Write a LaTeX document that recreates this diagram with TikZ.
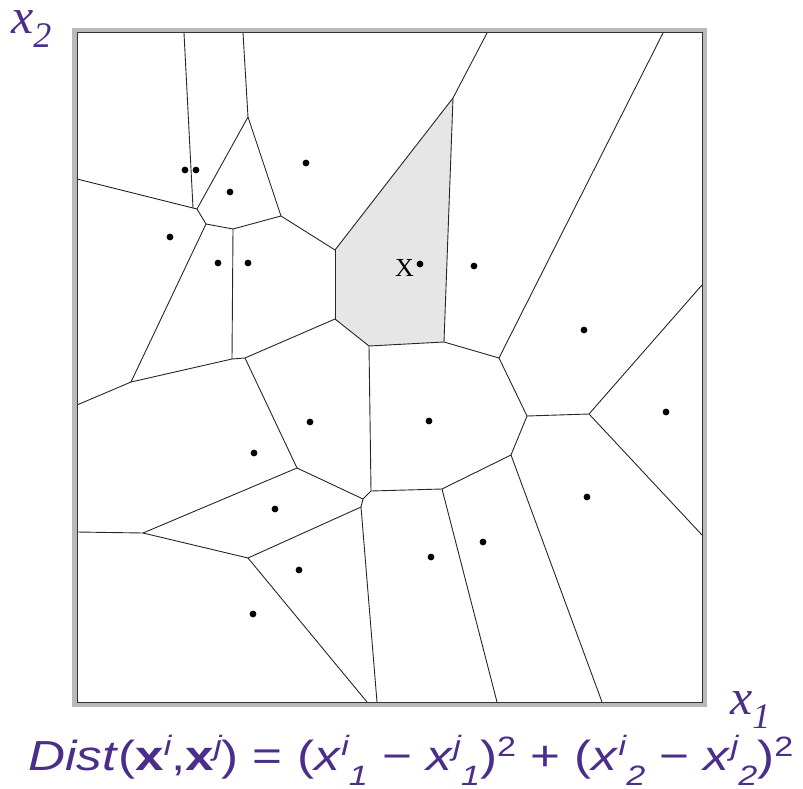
\documentclass[tikz,border=0pt]{standalone}
\usepackage{fontspec}
\newfontfamily\sansf{Liberation Sans}
\newfontfamily\seriff{Liberation Serif}
\usepackage{tikz}
\usetikzlibrary{calc}
\definecolor{labelpurple}{RGB}{75,46,139}
\definecolor{cellgray}{RGB}{230,230,230}

\newcommand{\dsub}[1]{\raisebox{-0.36em}{\fontsize{28}{28}\selectfont\itshape #1}}
\newcommand{\dsup}[1]{\raisebox{0.34em}{\fontsize{28}{28}\selectfont\itshape #1}}
\newcommand{\dpow}[1]{\raisebox{0.32em}{\fontsize{28}{28}\selectfont #1}}

\begin{document}
\begin{tikzpicture}[x=1pt,y=-1pt,
  edge/.style={black!85, line width=0.9pt},
  site/.style={fill=black}]
\useasboundingbox (0,0) rectangle (803,789);

% border and vertices of the cells
\foreach \n/\px/\py in {t1/184/33, t2/243/33, t3/487/33, t4/663/33,
  l1/77/179, l2/77/405, l3/77/532, r1/702/285, r2/702/535,
  d1/367/702, d2/377/702, d3/497/702, d4/602/702}{
  \coordinate (\n) at (\px,\py);
}
\foreach \i/\px/\py in {1/193/208, 2/197/209, 3/248/117, 4/206/224, 5/233/229,
  6/281/216, 7/335/250, 8/131/382, 9/232/359, 10/245/358, 11/335/319,
  12/453/98, 13/369/346, 14/444/342, 15/499/358, 16/527/416, 17/589/414,
  18/511/455, 19/442/489, 20/371/491, 21/363/499, 22/361/507, 23/297/468,
  24/143/533, 25/248/558}{
  \coordinate (v\i) at (\px,\py);
}

% highlighted cell
\fill[cellgray] (v12) -- (v14) -- (v13) -- (v11) -- (v7) -- cycle;

\foreach \a/\b in {t1/v1, l1/v1, v1/v2, t2/v3, v3/v2, v2/v4, v4/v5, v5/v6,
  v3/v6, v6/v7, v4/v8, v5/v9, v8/l2, v8/v9, v9/v10, v10/v11, v10/v23,
  t3/v12, v12/v7, v7/v11, v12/v14, v11/v13, v13/v14, v14/v15, t4/v15,
  v15/v16, v16/v17, v17/r1, v17/r2, v16/v18, v18/v19, v18/d4, v19/v20,
  v19/d3, v13/v20, v20/v21, v23/v21, v21/v22, v22/v25, v22/d2, v23/v24,
  l3/v24, v24/v25, v25/d1}{
  \draw[edge] (\a) -- (\b);
}

% frame
\draw[gray!55, line width=5pt] (74.5,30.5) rectangle (704.5,704.5);
\draw[black!80, line width=1pt] (77,33) rectangle (702,702);

% data points
\foreach \px/\py in {185/170, 196/170, 230/192, 306/163, 170/237, 218/263,
  248/263, 420/264, 474/266, 584/330, 666/412, 310/422, 429/421, 254/453,
  587/497, 275/509, 483/542, 431/557, 299/570, 253/614}{
  \fill[site] (\px,\py) circle (3.4pt);
}
\node[anchor=base east, inner sep=0pt, font=\seriff\fontsize{26}{26}\selectfont]
  (xlab) at (414,276) {X};

% axis labels
\node[anchor=base west, inner sep=0pt, text=labelpurple,
  font=\seriff\fontsize{50}{50}\selectfont] (xtwo) at (11,34)
  {\itshape x\raisebox{-0.28em}{\fontsize{36}{36}\selectfont 2}};
\node[anchor=base west, inner sep=0pt, text=labelpurple,
  font=\seriff\fontsize{50}{50}\selectfont] (xone) at (730,714)
  {\itshape x\raisebox{-0.28em}{\fontsize{36}{36}\selectfont 1}};

% distance formula
\node[anchor=base west, inner sep=0pt, text=labelpurple,
  font=\sansf\fontsize{42}{42}\selectfont] (dist) at (28,770)
  {\scalebox{1.22}[1]{\textit{Dist}(\textbf{x}\dsup{i},\textbf{x}\dsup{j}) = (\textit{x}\dsup{i}\dsub{1} −
   \textit{x}\dsup{j}\dsub{1})\dpow{2} + (\textit{x}\dsup{i}\dsub{2} −
   \textit{x}\dsup{j}\dsub{2})\dpow{2}}};
\end{tikzpicture}
\end{document}
